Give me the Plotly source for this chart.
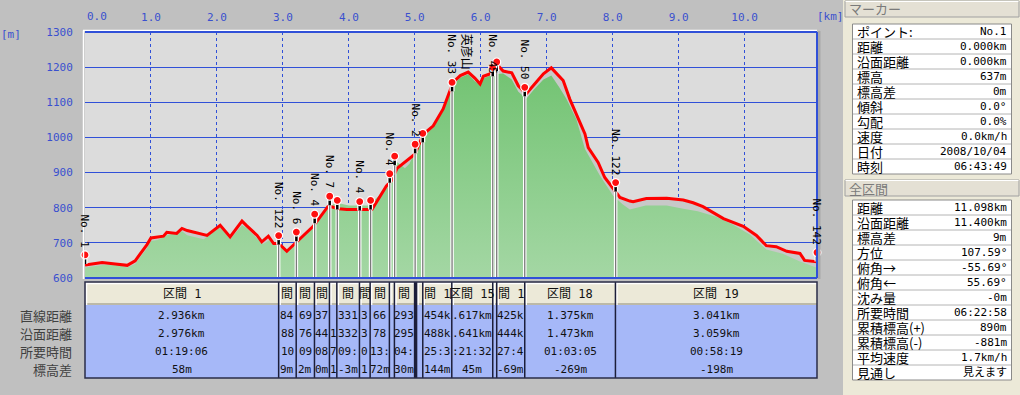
import plotly.graph_objects as go

# ---------------- data ----------------
track_km = [0.00, 0.10, 0.26, 0.46, 0.64, 0.76, 0.94, 1.00, 1.19, 1.24, 1.39, 1.47, 1.55, 1.85, 2.05,
            2.20, 2.38, 2.45, 2.61, 2.68, 2.78, 2.86, 2.94, 3.06, 3.21, 3.46, 3.69, 3.85, 3.97, 4.35,
            4.57, 4.65, 4.73, 5.00, 5.13, 5.28, 5.43, 5.58, 5.69, 5.81, 5.91, 5.99, 6.04, 6.19, 6.26,
            6.34, 6.47, 6.57, 6.69, 6.80, 6.95, 7.07, 7.25, 7.35, 7.50, 7.58, 7.63, 7.78, 7.88, 8.01,
            8.11, 8.26, 8.31, 8.51, 8.82, 9.07, 9.22, 9.37, 9.68, 9.98, 10.18, 10.33, 10.48, 10.64,
            10.84, 10.91, 11.098]
track_elev = [637, 640, 644, 640, 636, 649, 695, 714, 719, 730, 727, 741, 735, 721, 750,
              717, 762, 749, 721, 703, 719, 698, 698, 676, 702, 747, 805, 797, 795, 795,
              862, 878, 912, 952, 1009, 1033, 1081, 1157, 1176, 1186, 1169, 1152, 1174, 1184, 1205,
              1189, 1184, 1147, 1124, 1147, 1181, 1198, 1162, 1109, 1043, 1010, 971, 929, 886, 852,
              829, 819, 817, 826, 827, 822, 814, 803, 769, 747, 721, 692, 689, 676,
              670, 650, 646]

dem_km = [0.00, 0.30, 0.50, 0.64, 0.76, 0.94, 1.00, 1.10, 1.24, 1.47, 1.55, 1.80, 2.05, 2.20, 2.38,
          2.45, 2.61, 2.70, 2.80, 2.90, 3.00, 3.06, 3.21, 3.46, 3.69, 3.80, 4.00, 4.30, 4.60, 4.73,
          4.85, 4.92, 5.00, 5.13, 5.28, 5.43, 5.58, 5.69, 5.81, 5.91, 5.99, 6.04, 6.19, 6.34, 6.47,
          6.57, 6.69, 6.80, 6.95, 7.07, 7.20, 7.30, 7.45, 7.58, 7.81, 8.01, 8.15, 8.26, 8.50, 8.82,
          9.07, 9.29, 9.57, 9.82, 10.08, 10.33, 10.58, 10.84, 11.098]
dem_elev = [630, 638, 636, 630, 640, 685, 705, 708, 722, 733, 722, 710, 745, 710, 750,
            742, 712, 697, 708, 690, 686, 672, 698, 742, 800, 815, 806, 806, 860, 930,
            912, 925, 960, 1000, 1030, 1075, 1150, 1170, 1180, 1160, 1150, 1168, 1180, 1182, 1165,
            1130, 1110, 1135, 1165, 1176, 1140, 1109, 1052, 967, 890, 833, 810, 795, 806, 806,
            797, 790, 774, 752, 724, 681, 669, 647, 629]

mk_km = [0.0, 2.936, 3.205, 3.482, 3.710, 3.825, 4.165, 4.330, 4.620, 4.695, 5.005, 5.121,
         5.565, 6.182, 6.242, 6.667, 8.045, 11.098]
mk_elev = [640, 695, 705, 756, 807, 795, 792, 795, 871, 921, 955, 986,
           1131, 1174, 1189, 1117, 846, 647]
mk_label = ["No. 1", "No. 122", "No. 6", "No. 4", "No. 7", "", "No. 4", "", "No. 4", "",
            "No. 2", "", "No. 33", "No. 45", "", "No. 50", "No. 122", "No. 142"]
peak_name = "英彦山"
peak_km = 5.81

x_ticks = [0, 1, 2, 3, 4, 5, 6, 7, 8, 9, 10]
y_ticks = [600, 700, 800, 900, 1000, 1100, 1200, 1300]

sec_bounds = [0.0, 2.936, 3.202, 3.479, 3.706, 3.818, 4.161, 4.323, 4.615, 4.691, 4.997,
              5.012, 5.027, 5.121, 5.561, 6.182, 6.242, 6.667, 8.042, 11.098]
# visible (clipped) fragments of each section column, as shown in the narrow cells
sec_head = ["区間 1", "間", "間", "間", "", "間", "間", "間", "", "間", "", "", "",
            "間 1", "区間 15", "", "間 1", "区間 18", "区間 19"]
row_names = ["直線距離", "沿面距離", "所要時間", "標高差"]
row_dist = ["2.936km", "84", "69", "37", "", "331", "3", "66", "", "293", "", "", "",
            "454k", ".617km", "", "425k", "1.375km", "3.041km"]
row_surf = ["2.976km", "88", "76", "44", "1", "332", "3", "78", "", "295", "", "", "",
            "488k", ".641km", "", "444k", "1.473km", "3.059km"]
row_time = ["01:19:06", "10", "09", "08", "7", "09:", "0", "13:", "", "04:", "", "", "",
            "25:3", ":21:32", "", "27:4", "01:03:05", "00:58:19"]
row_dh = ["58m", "9m", "2m", "0m", "1", "-3m", "1", "72m", "", "30m", "", "", "",
          "144m", "45m", "", "-69m", "-269m", "-198m"]

marker_names = ["ポイント:", "距離", "沿面距離", "標高", "標高差", "傾斜", "勾配", "速度", "日付", "時刻"]
marker_values = ["No.1", "0.000km", "0.000km", "637m", "0m", "0.0°", "0.0%", "0.0km/h",
                 "2008/10/04", "06:43:49"]
total_names = ["距離", "沿面距離", "標高差", "方位", "俯角→", "俯角←", "沈み量", "所要時間",
               "累積標高(+)", "累積標高(-)", "平均速度", "見通し"]
total_values = ["11.098km", "11.400km", "9m", "107.59°", "-55.69°", "55.69°", "-0m",
                "06:22:58", "890m", "-881m", "1.7km/h", "見えます"]

# ---------------- layout constants ----------------
W, H = 1020, 395
L, R, T, B = 85, 817, 32, 278
XMAX = track_km[-1]
YMIN, YMAX = 600, 1300
BLUE = "#3050D8"
TXTBLUE = "#3A50CF"
MONO = "DejaVu Sans Mono, Noto Sans CJK JP"
JP = "Noto Sans CJK JP"


def PX(p):
    return (p - L) / (R - L)


def PY(p):
    return (B - p) / (B - T)


def ypix(e):
    return B - (e - YMIN) / (YMAX - YMIN) * (B - T)


pin_dy = 9 * (YMAX - YMIN) / (B - T)

fig = go.Figure()

# gray band under track
fig.add_trace(go.Scatter(x=track_km, y=track_elev, mode="lines", line=dict(width=0),
                         fill="tozeroy", fillcolor="#C8C8C8", hoverinfo="skip"))
# DEM terrain (green gradient)
fig.add_trace(go.Scatter(x=dem_km, y=dem_elev, mode="lines", line=dict(width=0),
                         fill="tozeroy",
                         fillgradient=dict(type="vertical",
                                           colorscale=[[0, "#A4D7A4"], [1, "#72C372"]],
                                           start=YMIN, stop=1200),
                         hoverinfo="skip"))
# GPS track
fig.add_trace(go.Scatter(x=track_km, y=track_elev, mode="lines",
                         line=dict(color="#FF0000", width=3), hoverinfo="skip"))

# section vertical lines
vx, vy = [], []
for k, e in zip(mk_km[1:-1], mk_elev[1:-1]):
    vx += [k, k, None]
    vy += [e, YMIN, None]
fig.add_trace(go.Scatter(x=vx, y=vy, mode="lines", line=dict(color="white", width=3.5),
                         hoverinfo="skip"))
fig.add_trace(go.Scatter(x=vx, y=vy, mode="lines", line=dict(color="#7A7A7A", width=1.3),
                         hoverinfo="skip"))

# pins
px_, py_ = [], []
for k, e in zip(mk_km, mk_elev):
    px_ += [k, k, None]
    py_ += [e, e + pin_dy, None]
fig.add_trace(go.Scatter(x=px_, y=py_, mode="lines", line=dict(color="white", width=5),
                         hoverinfo="skip", cliponaxis=False))
fig.add_trace(go.Scatter(x=px_, y=py_, mode="lines", line=dict(color="black", width=2.5),
                         hoverinfo="skip", cliponaxis=False))
fig.add_trace(go.Scatter(x=mk_km, y=[e + pin_dy for e in mk_elev], mode="markers",
                         marker=dict(color="#FF1010", size=8, line=dict(color="white", width=1.2)),
                         hoverinfo="skip", cliponaxis=False))

shapes = []
ann = []


def text(x, y, s, xanchor="center", yanchor="middle", **kw):
    d = dict(x=x, y=y, xref=kw.pop("xref", "paper"), yref=kw.pop("yref", "paper"), text=s,
             xanchor=xanchor, yanchor=yanchor, showarrow=False)
    d.update(kw)
    ann.append(d)


# outer background areas
shapes.append(dict(type="rect", xref="paper", yref="paper", x0=PX(843), x1=PX(1021),
                   y0=PY(396), y1=PY(-1), fillcolor="#ECE9D8", line=dict(width=0), layer="below"))

# plot frame highlights
shapes.append(dict(type="line", xref="paper", yref="paper", x0=PX(83), x1=PX(817),
                   y0=PY(30.5), y1=PY(30.5), line=dict(color="white", width=1.5)))
shapes.append(dict(type="line", xref="paper", yref="paper", x0=PX(83.5), x1=PX(83.5),
                   y0=PY(30.5), y1=PY(279), line=dict(color="white", width=1.5)))
shapes.append(dict(type="rect", xref="paper", yref="paper", x0=PX(817.5), x1=PX(820.5),
                   y0=PY(279), y1=PY(31), fillcolor="#A8A8A8", line=dict(width=0)))
shapes.append(dict(type="line", xref="paper", yref="paper", x0=0, x1=1, y0=1, y1=1,
                   line=dict(color=BLUE, width=2)))
shapes.append(dict(type="line", xref="paper", yref="paper", x0=0, x1=1, y0=0, y1=0,
                   line=dict(color=BLUE, width=2)))
shapes.append(dict(type="line", xref="paper", yref="paper", x0=1, x1=1, y0=0, y1=1,
                   line=dict(color=BLUE, width=2)))

# marker labels
for k, e, lab in zip(mk_km, mk_elev, mk_label):
    if not lab:
        continue
    h = len(lab) * 6.6
    top = ypix(e) - 15 - h
    f = dict(family=MONO, size=11, color="black")
    if top < T + 1:
        text(k, 1, lab, yanchor="top", xref="x", textangle=90, font=f)
    else:
        text(k, e, lab, yanchor="bottom", xref="x", yref="y", textangle=90, yshift=15, font=f)
text(peak_km, 1, peak_name, yanchor="top", xref="x", textangle=90,
     font=dict(family=JP, size=12, color="black"))

# axis extra labels
text(0, PY(17), f"{x_ticks[0]:.1f}", xref="x", xshift=12,
     font=dict(family=MONO, size=11, color=TXTBLUE))
text(PX(830), PY(17), "[km]", font=dict(family=MONO, size=11, color=TXTBLUE))
text(PX(11), PY(34), "[m]", font=dict(family=MONO, size=11, color=TXTBLUE))

# ---------------- section table ----------------
HT, HB, BB = 282, 305, 378
shapes.append(dict(type="rect", xref="paper", yref="paper", x0=0, x1=1, y0=PY(BB), y1=PY(HB),
                   fillcolor="#A6B8F8", line=dict(width=0)))
rows = [row_dist, row_surf, row_time, row_dh]
row_y = [315, 333, 351, 369]
for i in range(len(sec_head)):
    x0 = sec_bounds[i] / XMAX
    x1 = sec_bounds[i + 1] / XMAX
    shapes.append(dict(type="rect", xref="paper", yref="paper", x0=x0, x1=x1,
                       y0=PY(HB), y1=PY(HT), fillcolor="#ECE9D8",
                       line=dict(width=0)))
    shapes.append(dict(type="line", xref="paper", yref="paper", x0=x0, x1=x1,
                       y0=PY(HT + 1.5), y1=PY(HT + 1.5), line=dict(color="white", width=1.5)))
    shapes.append(dict(type="line", xref="paper", yref="paper", x0=x0, x1=x1,
                       y0=PY(HB - 1), y1=PY(HB - 1), line=dict(color="#ACA899", width=1.5)))
    shapes.append(dict(type="line", xref="paper", yref="paper", x0=x0 + 1.5 / (R - L),
                       x1=x0 + 1.5 / (R - L), y0=PY(HB), y1=PY(HT),
                       line=dict(color="white", width=1.5)))
    cx = (x0 + x1) / 2
    if sec_head[i]:
        text(cx, PY(293.5), sec_head[i], font=dict(family=MONO, size=12, color="#111111"))
    for rv, yy in zip(rows, row_y):
        if rv[i]:
            text(cx, PY(yy), rv[i], font=dict(family=MONO, size=11, color="#111111"))
    if i > 0:
        shapes.append(dict(type="line", xref="paper", yref="paper", x0=x0, x1=x0,
                           y0=PY(BB), y1=PY(HT), line=dict(color="#1C1E3A", width=1.5)))
shapes.append(dict(type="rect", xref="paper", yref="paper", x0=0, x1=1, y0=PY(BB), y1=PY(HT),
                   line=dict(color="#2A2C48", width=1.5)))
for name, yy in zip(row_names, row_y):
    text(PX(74), PY(yy), name, xanchor="right", font=dict(family=JP, size=13, color="#404040"))


# ---------------- right panel ----------------
def panel(title, ytop, names, values, box_top):
    shapes.append(dict(type="rect", xref="paper", yref="paper", x0=PX(845), x1=PX(1019),
                       y0=PY(ytop + 17), y1=PY(ytop + 1), fillcolor="#E4E0D4",
                       line=dict(color="#A0A0A0", width=1)))
    shapes.append(dict(type="line", xref="paper", yref="paper", x0=PX(845.5), x1=PX(1018.5),
                       y0=PY(ytop + 1.5), y1=PY(ytop + 1.5), line=dict(color="white", width=1)))
    text(PX(847), PY(ytop + 9), title, xanchor="left",
         font=dict(family=JP, size=13, color="#7A7A7A"))
    rh = 15
    n = len(names)
    shapes.append(dict(type="rect", xref="paper", yref="paper", x0=PX(852.5), x1=PX(1011.5),
                       y0=PY(box_top + rh * n), y1=PY(box_top), fillcolor="white",
                       line=dict(color="#8A8A8A", width=1)))
    for j, (nm, vl) in enumerate(zip(names, values)):
        yc = box_top + rh * j + rh / 2
        if j > 0:
            shapes.append(dict(type="line", xref="paper", yref="paper", x0=PX(853),
                               x1=PX(1011), y0=PY(box_top + rh * j), y1=PY(box_top + rh * j),
                               line=dict(color="#B4B4B4", width=1)))
        text(PX(855), PY(yc), nm, xanchor="left", font=dict(family=JP, size=13, color="black"))
        text(PX(1009), PY(yc), vl, xanchor="right",
             font=dict(family=MONO, size=11, color="black"))


panel("マーカー", 0, marker_names, marker_values, 24)
panel("全区間", 179, total_names, total_values, 200)

fig.update_layout(
    width=W, height=H, autosize=False,
    margin=dict(l=L, r=W - R, t=T, b=H - B, pad=0),
    paper_bgcolor="#C0C0C0", plot_bgcolor="#DCDCDC",
    showlegend=False,
    xaxis=dict(range=[0, XMAX], side="top", tickvals=x_ticks,
               ticktext=[""] + [f"{v:.1f}" for v in x_ticks[1:]],
               showgrid=True, gridcolor=BLUE, griddash="dot", gridwidth=1,
               zeroline=False, showline=False, ticks="outside", ticklen=6,
               tickcolor="rgba(0,0,0,0)",
               tickfont=dict(family=MONO, size=11, color=TXTBLUE), fixedrange=True),
    yaxis=dict(range=[YMIN, YMAX], tickvals=y_ticks, showgrid=True, gridcolor=BLUE,
               gridwidth=1, zeroline=False, showline=False, ticks="outside", ticklen=9,
               tickcolor="rgba(0,0,0,0)",
               tickfont=dict(family=MONO, size=11, color=TXTBLUE), fixedrange=True),
    shapes=shapes,
    annotations=ann,
)

fig.write_html("out.html", config={"displayModeBar": False},
               post_script="document.body.style.margin='0px';document.body.style.overflow='hidden';")
